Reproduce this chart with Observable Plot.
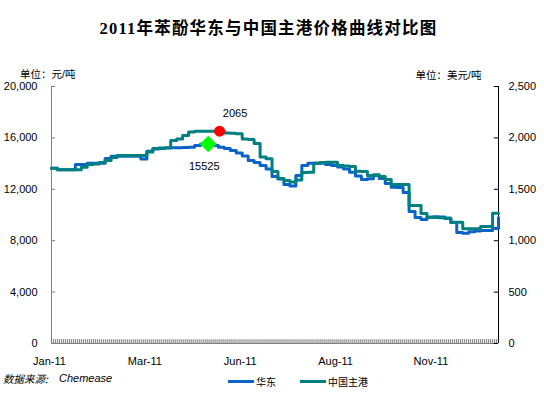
<!DOCTYPE html>
<html><head><meta charset="utf-8">
<script src="https://cdn.jsdelivr.net/npm/d3@7"></script>
<script src="https://cdn.jsdelivr.net/npm/@observablehq/plot@0.6"></script>
<style>
body{margin:0;background:#fff;}
#wrap{position:relative;width:544px;height:399px;overflow:hidden;font-family:"Liberation Sans",Arial,"Noto Sans CJK SC",sans-serif;color:#000;}
#title{position:absolute;left:0;top:19px;width:537px;text-align:center;font-family:"Liberation Serif","Noto Sans CJK SC",serif;font-weight:bold;font-size:16.5px;letter-spacing:1.2px;line-height:20px;white-space:nowrap;}
#chart{position:absolute;left:0;top:50px;}
#source{position:absolute;left:3px;top:370px;font-style:italic;white-space:nowrap;line-height:16px;}
#source .cn{font-family:"Noto Sans CJK SC",sans-serif;font-size:10.5px;}
#source .en{font-family:"Liberation Sans",Arial,sans-serif;font-size:11px;position:absolute;left:56px;top:0;}
.sw{position:absolute;height:3px;width:26px;top:379.5px;}
.lg{position:absolute;top:374px;font-family:"Noto Sans CJK SC",sans-serif;font-size:10px;line-height:16px;white-space:nowrap;}
</style></head><body>
<div id="wrap">
  <div id="title">2011年苯酚华东与中国主港价格曲线对比图</div>
  <div id="chart"></div>
  <div id="source"><span class="cn">数据来源:</span><span class="en">Chemease</span></div>
  <div class="sw" style="left:228px;background:#0a64c8"></div><div class="lg" style="left:256px">华东</div>
  <div class="sw" style="left:300px;background:#008080"></div><div class="lg" style="left:328px">中国主港</div>
</div>
<script>
// x categories (index positions along the trading-day axis) and labels
const xLabels = ["Jan-11", "Mar-11", "Jun-11", "Aug-11", "Nov-11"];
const xLabelIndex = [0, 16, 32, 48, 64];
// 华东 (元/吨), left axis
const eastChina = [13640,13520,13520,13520,13930,13930,14030,14030,14030,14400,
  14580,14580,14580,14580,14580,14360,14960,15140,15180,15210,
  15230,15230,15250,15280,15410,15525,15525,15410,15280,15175,
  15020,14825,14590,14240,14085,13850,13580,13000,12800,12370,
  12250,13070,13850,14030,14030,14030,13930,13850,13735,13580,
  13330,13035,12760,12820,13070,12840,12450,12160,12140,11750,
  10270,9805,9650,9830,9870,9845,9730,9415,8640,8585,
  8690,8755,8795,8795,8950,9805];
// 中国主港 (美元/吨), right axis
const chinaPort = [1705,1690,1690,1690,1690,1715,1741,1746,1761,1780,
  1809,1829,1829,1829,1829,1829,1863,1897,1902,1904,
  1975,1989,2023,2057,2065,2065,2065,2065,2065,2048,
  2046,2040,1989,1985,1946,1814,1797,1673,1605,1586,
  1571,1591,1663,1666,1754,1761,1764,1764,1732,1727,
  1722,1676,1673,1634,1641,1625,1595,1547,1547,1547,
  1342,1342,1265,1229,1226,1223,1221,1180,1180,1116,
  1116,1116,1138,1138,1268,1268];
const leftTicks = [0, 4000, 8000, 12000, 16000, 20000];
const rightTicks = [0, 500, 1000, 1500, 2000, 2500];
const peakPort = [{i: 28.2, value: 2065}];
const peakEast = [{i: 26.3, value: 15525}];

const ratio = 20000 / 2500;
const n = eastChina.length - 1;
const minorTicks = d3.range(224).map(k => k * n / 223);
const BLUE = "#0a64c8", GREEN = "#008080";

const chart = Plot.plot({
  width: 544, height: 320,
  marginTop: 36, marginBottom: 27, marginLeft: 51, marginRight: 46,
  style: {fontFamily: "'Liberation Sans', Arial, 'Noto Sans CJK SC', sans-serif", fontSize: "11px", color: "#000", background: "#fff"},
  x: {domain: [0, n], axis: null},
  y: {domain: [0, 20000], axis: null},
  marks: [
    Plot.ruleX(minorTicks, {y1: 0, y2: 300, stroke: "#8c8c8c", strokeWidth: 1.2}),
    Plot.ruleY([0], {stroke: "#808080"}),
    Plot.ruleX([0], {stroke: "#808080"}),
    Plot.ruleX([n], {stroke: "#000"}),
    Plot.ruleY(leftTicks, {x1: 0, x2: 0.7, stroke: "#808080"}),
    Plot.ruleY(rightTicks.map(d => d * ratio), {x1: n - 0.7, x2: n, stroke: "#000"}),
    Plot.axisY({anchor: "left", label: null, ticks: leftTicks, tickSize: 0, tickPadding: 14, tickFormat: d3.format(",")}),
    Plot.axisY({anchor: "right", label: null, ticks: rightTicks.map(d => d * ratio), tickSize: 0, tickPadding: 10, tickFormat: d => d3.format(",")(d / ratio)}),
    Plot.axisX({label: null, ticks: xLabelIndex, tickSize: 0, tickPadding: 14, dx: -2, tickFormat: d => xLabels[xLabelIndex.indexOf(d)]}),
    Plot.line(eastChina, {x: (d, i) => i, y: d => d, curve: "step-after", stroke: BLUE, strokeWidth: 3}),
    Plot.line(chinaPort, {x: (d, i) => i, y: d => d * ratio, curve: "step-after", stroke: GREEN, strokeWidth: 3}),
    Plot.dot(peakPort, {x: "i", y: d => d.value * ratio, r: 5.5, fill: "#ff0000"}),
    Plot.dot(peakEast, {x: "i", y: "value", symbol: "diamond2", r: 7.5, fill: "#00ff00"}),
    Plot.text(peakPort, {x: "i", y: d => d.value * ratio, text: d => String(d.value), dx: 15.5, dy: -18}),
    Plot.text(peakEast, {x: "i", y: "value", text: d => String(d.value), dx: -4, dy: 22}),
    Plot.text(["单位：元/吨"], {frameAnchor: "top-left", textAnchor: "end", dx: 24, dy: -16, fontSize: 10.5}),
    Plot.text(["单位：美元/吨"], {frameAnchor: "top-right", textAnchor: "end", dx: -17, dy: -15, fontSize: 10.5})
  ]
});
document.getElementById("chart").appendChild(chart);
</script>
</body></html>
